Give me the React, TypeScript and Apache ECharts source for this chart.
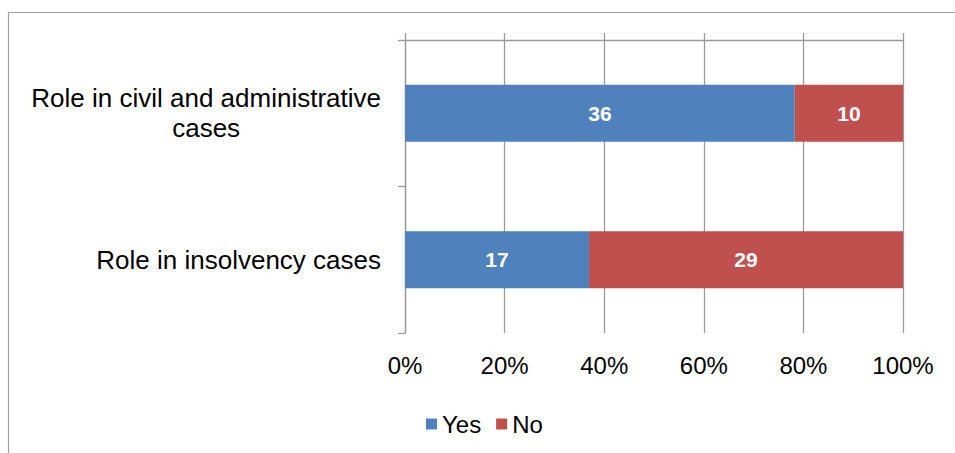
import React, { useEffect, useRef } from "react";
import * as echarts from "echarts";

const categories = ["Role in civil and administrative\ncases", "Role in insolvency cases"];
const yesValues = [36, 17];
const noValues = [10, 29];
const seriesNames = ["Yes", "No"];
const xTicks = [0, 20, 40, 60, 80, 100];

const FONT = "'Liberation Sans', Arial, sans-serif";
const GRID_COLOR = "#9a9a9a";

export default function App() {
  const ref = useRef<HTMLDivElement>(null);
  useEffect(() => {
    if (!ref.current) return;
    const chart = echarts.init(ref.current, undefined, { renderer: "svg" });
    const totals = yesValues.map((v, i) => v + noValues[i]);
    const pct = (arr: number[]) => arr.map((v, i) => ({ value: (v / totals[i]) * 100, count: v }));
    const labelCfg = {
      show: true,
      position: "inside",
      color: "#ffffff",
      fontWeight: "bold",
      fontSize: 21,
      fontFamily: FONT,
      formatter: (p: any) => String(p.data.count),
    };
    chart.setOption({
      animation: false,
      backgroundColor: "#ffffff",
      graphic: [
        {
          type: "rect",
          shape: { x: 8.5, y: 12.5, width: 1000, height: 500 },
          style: { fill: "none", stroke: "#a0a0a0", lineWidth: 1.2 },
          silent: true,
        },
      ],
      grid: { left: 405, right: 52, top: 40, bottom: 120, containLabel: false },
      legend: {
        data: seriesNames,
        left: 421,
        top: 407,
        itemWidth: 11,
        itemHeight: 11,
        itemGap: 15,
        icon: "rect",
        textStyle: { fontSize: 24, color: "#000", fontFamily: FONT },
      },
      xAxis: [
        {
          type: "value",
          position: "bottom",
          min: xTicks[0],
          max: xTicks[xTicks.length - 1],
          interval: 20,
          axisLine: { show: false },
          axisTick: { show: false },
          axisLabel: {
            formatter: "{value}%",
            fontSize: 24,
            color: "#000",
            fontFamily: FONT,
            margin: 20,
          },
          splitLine: { show: true, lineStyle: { color: GRID_COLOR, width: 1.3 } },
        },
        {
          type: "value",
          position: "top",
          min: xTicks[0],
          max: xTicks[xTicks.length - 1],
          interval: 20,
          axisLine: { show: true, lineStyle: { color: GRID_COLOR, width: 1.3 } },
          axisTick: { show: true, length: 7, lineStyle: { color: GRID_COLOR, width: 1.3 } },
          axisLabel: { show: false },
          splitLine: { show: false },
        },
      ],
      yAxis: {
        type: "category",
        data: categories,
        inverse: true,
        axisLine: { show: true, lineStyle: { color: GRID_COLOR, width: 1.3 } },
        axisTick: { show: true, length: 7, lineStyle: { color: GRID_COLOR, width: 1.3 } },
        axisLabel: {
          margin: 24,
          color: "#000",
          fontSize: 26,
          fontFamily: FONT,
          formatter: (v: string) => v.split("\n").map((s) => `{c|${s}}`).join("\n"),
          rich: {
            c: { align: "center", fontSize: 26, lineHeight: 30, color: "#000", fontFamily: FONT },
          },
        },
      },
      series: [
        {
          name: seriesNames[0],
          type: "bar",
          stack: "total",
          barWidth: 57,
          itemStyle: { color: "#4F81BD" },
          label: labelCfg,
          data: pct(yesValues),
        },
        {
          name: seriesNames[1],
          type: "bar",
          stack: "total",
          barWidth: 57,
          itemStyle: { color: "#C0504D" },
          label: labelCfg,
          data: pct(noValues),
        },
      ],
    });
    return () => chart.dispose();
  }, []);
  return (
    <div
      ref={ref}
      style={{ position: "absolute", left: 0, top: 0, width: 955, height: 453 }}
    />
  );
}
